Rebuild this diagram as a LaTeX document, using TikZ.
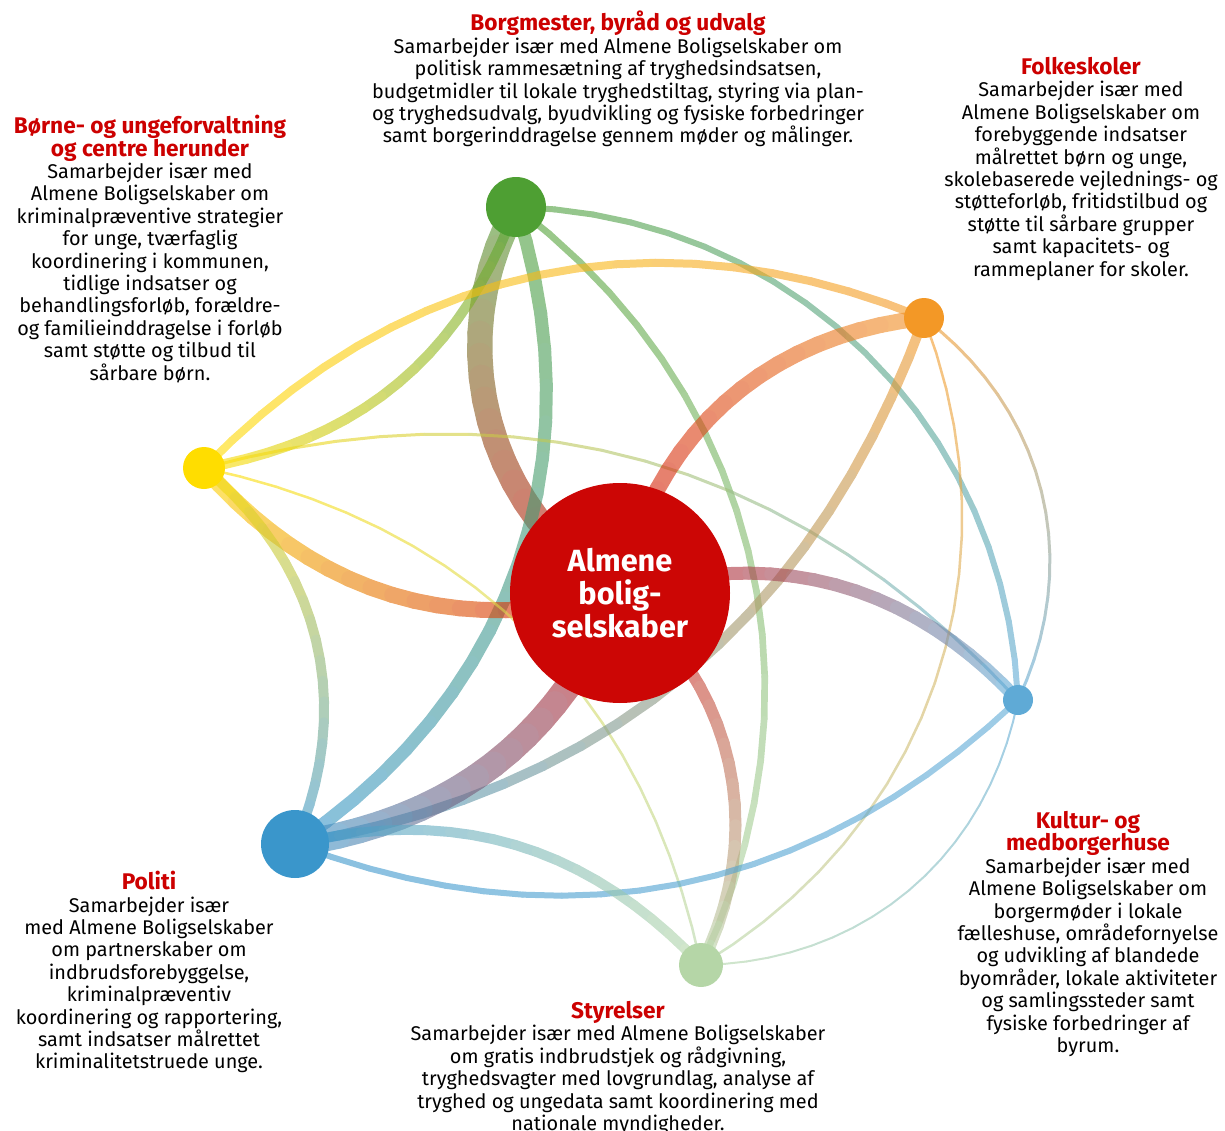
\documentclass[tikz,border=0pt]{standalone}
\usepackage{fontspec}
\setmainfont{Fira Sans}
\usepackage{xcolor}
\usetikzlibrary{positioning, backgrounds, decorations.markings}
\definecolor{hubred}{RGB}{204,6,5}
\definecolor{titlered}{RGB}{204,0,0}
\definecolor{mayorgreen}{RGB}{78,159,51}
\definecolor{schoolorange}{RGB}{243,152,38}
\definecolor{youthyellow}{RGB}{255,221,0}
\definecolor{culturblue}{RGB}{95,170,214}
\definecolor{agencygreen}{RGB}{181,214,167}
\definecolor{policeblue}{RGB}{58,150,203}

\newcommand{\notetitle}[1]{{\color{titlered}\bfseries\fontsize{17}{16.8}\selectfont #1}}
% curved link, colour running from #5 to #6
\newcommand{\band}[6]{%
  \path[decorate, decoration={markings,
      mark=between positions 0 and 1 step 0.0499 with
      {\coordinate (bp\pgfkeysvalueof{/pgf/decoration/mark info/sequence number});}}]
    (#1.center) to[#3] (#2.center);
  \begin{scope}[transparency group, opacity=0.6]
    \foreach \i in {1,...,20}{
      \pgfmathtruncatemacro{\j}{\i+1}
      \pgfmathtruncatemacro{\pc}{102-5*\i}
      \draw[line width=#4, line cap=round, #5!\pc!#6] (bp\i) -- (bp\j);
    }
  \end{scope}
}

\begin{document}
\begin{tikzpicture}[
    x=0.75pt, y=0.75pt,
    dot/.style={circle, inner sep=0pt},
    note/.style={align=center, inner sep=0pt, anchor=north,
                 font=\fontsize{14.9}{16.8}\selectfont}
]
    \useasboundingbox (0,0) rectangle (1225,-1131);

    % Actors
    \node[dot, fill=mayorgreen, minimum size=45pt] (mayor) at (516,-207) {};
    \node[dot, fill=schoolorange, minimum size=30pt] (school) at (924,-318) {};
    \node[dot, fill=youthyellow, minimum size=31.5pt] (youth) at (204,-468) {};
    \node[dot, fill=culturblue, minimum size=22.5pt] (culture) at (1018,-700) {};
    \node[dot, fill=agencygreen, minimum size=33pt] (agency) at (701,-965) {};
    \node[dot, fill=policeblue, minimum size=51pt] (police) at (295,-844) {};
    \node[dot, fill=hubred, minimum size=165pt, text=white, align=center,
          font=\bfseries\fontsize{23}{24.5}\selectfont] (hub) at (620,-593)
          {Almene\\bolig-\\selskaber};

    % Links
    \begin{pgfonlayer}{background}
    \band{mayor}{hub}{bend right=44}{19pt}{mayorgreen}{hubred}
    \band{mayor}{police}{bend left=37}{9.75pt}{mayorgreen}{policeblue}
    \band{mayor}{youth}{bend left=30}{7.5pt}{mayorgreen}{youthyellow}
    \band{mayor}{agency}{bend left=39}{5pt}{mayorgreen}{agencygreen}
    \band{mayor}{culture}{bend left=43}{4.5pt}{mayorgreen}{culturblue}
    \band{youth}{school}{bend left=34}{6pt}{youthyellow}{schoolorange}
    \band{youth}{hub}{bend right=32}{12pt}{youthyellow}{hubred}
    \band{youth}{police}{bend left=37}{7.5pt}{youthyellow}{policeblue}
    \band{youth}{culture}{bend left=31}{2.25pt}{youthyellow}{culturblue}
    \band{youth}{agency}{bend left=33}{1.9pt}{youthyellow}{agencygreen}
    \band{school}{hub}{bend right=36}{12pt}{schoolorange}{hubred}
    \band{school}{police}{bend left=30}{7.5pt}{schoolorange}{policeblue}
    \band{school}{agency}{bend left=40}{1.9pt}{schoolorange}{agencygreen}
    \band{school}{culture}{bend left=39}{2.25pt}{schoolorange}{culturblue}
    \band{hub}{culture}{bend left=32}{9.75pt}{hubred}{culturblue}
    \band{hub}{police}{bend left=29}{19.5pt}{hubred}{policeblue}
    \band{hub}{agency}{bend left=39}{9pt}{hubred}{agencygreen}
    \band{police}{culture}{bend right=32}{4.5pt}{policeblue}{culturblue}
    \band{police}{agency}{bend left=30}{7.5pt}{policeblue}{agencygreen}
    \band{culture}{agency}{bend left=39}{1.5pt}{culturblue}{agencygreen}
    \end{pgfonlayer}

    % Descriptions
    \node[note] (mayortext) at (618,-11) {\notetitle{Borgmester, byråd og udvalg}\\
        Samarbejder især med Almene Boligselskaber om\\
        politisk rammesætning af tryghedsindsatsen,\\
        budgetmidler til lokale tryghedstiltag, styring via plan-\\
        og tryghedsudvalg, byudvikling og fysiske forbedringer\\
        samt borgerinddragelse gennem møder og målinger.};
    \node[note] (schooltext) at (1081,-57) {\notetitle{Folkeskoler}\\
        Samarbejder især med\\
        Almene Boligselskaber om\\
        forebyggende indsatser\\
        målrettet børn og unge,\\
        skolebaserede vejlednings- og\\
        støtteforløb, fritidstilbud og\\
        støtte til sårbare grupper\\
        samt kapacitets- og\\
        rammeplaner for skoler.};
    \node[note] (youthtext) at (150,-115) {\notetitle{Børne- og ungeforvaltning}\\
        \notetitle{og centre herunder}\\
        Samarbejder især med\\
        Almene Boligselskaber om\\
        kriminalpræventive strategier\\
        for unge, tværfaglig\\
        koordinering i kommunen,\\
        tidlige indsatser og\\
        behandlingsforløb, forældre-\\
        og familieinddragelse i forløb\\
        samt støtte og tilbud til\\
        sårbare børn.};
    \node[note] (policetext) at (149,-871) {\notetitle{Politi}\\
        Samarbejder især\\
        med Almene Boligselskaber\\
        om partnerskaber om\\
        indbrudsforebyggelse,\\
        kriminalpræventiv\\
        koordinering og rapportering,\\
        samt indsatser målrettet\\
        kriminalitetstruede unge.};
    \node[note] (agencytext) at (618,-1001) {\notetitle{Styrelser}\\
        Samarbejder især med Almene Boligselskaber\\
        om gratis indbrudstjek og rådgivning,\\
        tryghedsvagter med lovgrundlag, analyse af\\
        tryghed og ungedata samt koordinering med\\
        nationale myndigheder.};
    \node[note] (culturetext) at (1088,-811) {\notetitle{Kultur- og}\\
        \notetitle{medborgerhuse}\\
        Samarbejder især med\\
        Almene Boligselskaber om\\
        borgermøder i lokale\\
        fælleshuse, områdefornyelse\\
        og udvikling af blandede\\
        byområder, lokale aktiviteter\\
        og samlingssteder samt\\
        fysiske forbedringer af\\
        byrum.};
\end{tikzpicture}
\end{document}
